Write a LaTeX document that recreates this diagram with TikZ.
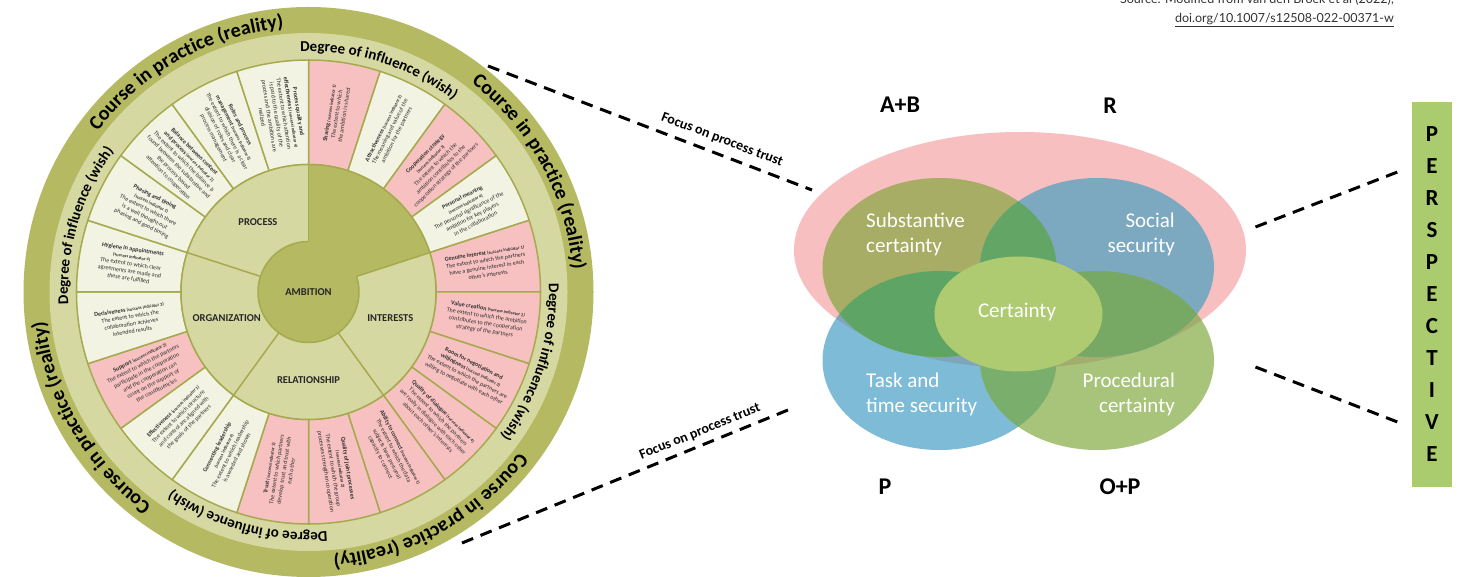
\documentclass[tikz,border=0pt]{standalone}
\usepackage{fontspec}
\setmainfont{Carlito}
\newfontfamily\srcfont{Lato}
\usetikzlibrary{decorations.text,calc}
\definecolor{darkolive}{HTML}{B5B961}
\definecolor{lightolive}{HTML}{D5D8A1}
\definecolor{segpink}{HTML}{F8C1C1}
\definecolor{segcream}{HTML}{F2F3E3}
\definecolor{lineolive}{HTML}{A6AA4F}
\definecolor{segtext}{HTML}{2E2E2E}
\definecolor{vpink}{HTML}{F7BFBF}
\definecolor{vtl}{HTML}{A7AD64}
\definecolor{vtr}{HTML}{7CA8C0}
\definecolor{vbl}{HTML}{7DBBD6}
\definecolor{vbr}{HTML}{A8C47A}
\definecolor{vtltr}{HTML}{62A565}
\definecolor{vtlbl}{HTML}{5EA464}
\definecolor{vtrbr}{HTML}{77A964}
\definecolor{vblbr}{HTML}{7AAE6C}
\definecolor{vblpink}{HTML}{7FA5BA}
\definecolor{vbrpink}{HTML}{A3AE6E}
\definecolor{vcert}{HTML}{AECB71}
\definecolor{persp}{HTML}{AACB6E}
\newcommand\segt[1]{\textbf{#1}}
\newcommand\sind[1]{{\fontsize{4.5}{6}\selectfont\textbf{(success indicator #1)}}}
\tikzset{
  segbox/.style={text=segtext, align=center, font=\fontsize{6}{7.4}\selectfont, inner sep=0pt},
  segshape/.style={draw=lineolive, line width=1.5pt},
  ringlab/.style={font=\bfseries\fontsize{10.5}{12}\selectfont, text=black!85, inner sep=0pt},
  venntext/.style={text=white, font=\fontsize{21}{25}\selectfont, inner sep=0pt},
  vennlab/.style={font=\bfseries\fontsize{24}{28}\selectfont, inner sep=0pt},
  focuslab/.style={font=\bfseries\fontsize{14}{16}\selectfont, inner sep=0pt},
  trustline/.style={line width=3pt, dash pattern=on 12pt off 8pt},
  coursedeco/.style={decorate, decoration={text along path, text align=center,
     text={|\bfseries\fontsize{20}{24}\selectfont|Course in practice (reality)}}},
  degreedeco/.style={decorate, decoration={text along path, text align=center,
     text={|\bfseries\fontsize{15}{18}\selectfont|Degree of influence (wish)}}},
}
\begin{document}
\begin{tikzpicture}[x=1pt,y=1pt]
\useasboundingbox (0,0) rectangle (1465,576);
\fill[white] (0,0) rectangle (1465,576);
\clip (0,0) rectangle (1465,576);

% ---------------- wheel ----------------
\begin{scope}[shift={(308.5,284)}]
  \fill[darkolive] (0,0) circle[radius=285pt];
  \fill[lightolive] (0,0) circle[radius=259pt];
  \foreach \i/\c in {0/segpink,1/segcream,2/segpink,3/segcream,4/segpink,5/segpink,6/segpink,7/segpink,8/segpink,9/segpink,10/segpink,11/segcream,12/segcream,13/segpink,14/segcream,15/segcream,16/segcream,17/segcream,18/segcream,19/segcream} {
    \pgfmathsetmacro\sa{90-18*\i}
    \pgfmathsetmacro\sb{72-18*\i}
    \filldraw[segshape, fill=\c] (\sa:127.5pt) arc[start angle=\sa, end angle=\sb, radius=127.5pt]
      -- (\sb:232pt) arc[start angle=\sb, end angle=\sa, radius=232pt] -- cycle;
  }
  \fill[lightolive] (0,0) circle[radius=127.5pt];
  \fill[darkolive] (0,0) -- (18:127.5pt) arc[start angle=18, end angle=90, radius=127.5pt] -- cycle;
  \fill[darkolive] (0,0) circle[radius=50.5pt];
  \draw[lineolive, line width=1.5pt] (0,0) circle[radius=127.5pt];
  \draw[lineolive, line width=1.5pt] (90:50.5pt) arc[start angle=90, end angle=378, radius=50.5pt];
  \foreach \a in {90,162,234,306,18} \draw[lineolive, line width=1.5pt] (\a:50.5pt) -- (\a:127.5pt);

  \node[ringlab] (ambition) at (0,0) {AMBITION};
  \node[ringlab] (process) at (126:86pt) {PROCESS};
  \node[ringlab] (organization) at (198:86pt) {ORGANIZATION};
  \node[ringlab] (interests) at (342:86pt) {INTERESTS};
  \node[ringlab] (relationship) at (270:88pt) {RELATIONSHIP};

  % curved ring texts
  \path[coursedeco] (159:265pt) arc[start angle=159, end angle=79, radius=265pt];
  \path[coursedeco] (68.5:265pt) arc[start angle=68.5, end angle=-11.5, radius=265pt];
  \path[coursedeco] (-21:265pt) arc[start angle=-21, end angle=-101, radius=265pt];
  \path[coursedeco] (250:265pt) arc[start angle=250, end angle=170, radius=265pt];
  \path[degreedeco] (112.5:240.5pt) arc[start angle=112.5, end angle=32.5, radius=240.5pt];
  \path[degreedeco] (22.5:240.5pt) arc[start angle=22.5, end angle=-57.5, radius=240.5pt];
  \path[degreedeco] (-65:240.5pt) arc[start angle=-65, end angle=-145, radius=240.5pt];
  \path[degreedeco] (203.5:240.5pt) arc[start angle=203.5, end angle=123.5, radius=240.5pt];

  % segment texts
  \node[segbox, rotate=81] (s1) at (81:180pt) {\segt{Sharing} \sind{1}\\The extent to which\\the ambition is shared};
  \node[segbox, rotate=63] (s2) at (63:180pt) {\segt{Attractiveness} \sind{2}\\The meaning and value of the\\ambition for the partners};
  \node[segbox, rotate=45] (s3) at (45:180pt) {\segt{Cooperation strategy}\\\sind{3}\\The extent to which the\\ambition contributes to the\\cooperation strategy of the partners};
  \node[segbox, rotate=27] (s4) at (27:180pt) {\segt{Personal meaning}\\\sind{4}\\The personal significance of the\\ambition for key players\\in the collaboration};
  \node[segbox, rotate=9] (s5) at (9:180pt) {\segt{Genuine interest} \sind{1}\\The extent to which the partners\\have a genuine interest in each\\other's interests};
  \node[segbox, rotate=-9] (s6) at (-9:180pt) {\segt{Value creation} \sind{2}\\The extent to which the ambition\\contributes to the cooperation\\strategy of the partners};
  \node[segbox, rotate=-27] (s7) at (-27:180pt) {\segt{Room for negotiation and}\\\segt{willingness} \sind{3}\\The extent to which the partners are\\willing to negotiate with each other};
  \node[segbox, rotate=-45] (s8) at (-45:180pt) {\segt{Quality of dialogue} \sind{4}\\The extent to which the partners\\are really in dialogue with each other\\about each other's interests};
  \node[segbox, rotate=-63] (s9) at (-63:180pt) {\segt{Ability to connect} \sind{1}\\The extent to which the data\\subjects have personal\\capacity to connect};
  \node[segbox, rotate=-81] (s10) at (-81:180pt) {\segt{Quality of joint processes}\\\sind{2}\\The extent to which the group\\processes strengthen cooperation};
  \node[segbox, rotate=81] (s11) at (-99:180pt) {\segt{Trust} \sind{3}\\The extent to which partners\\develop trust and trust with\\each other};
  \node[segbox, rotate=63] (s12) at (-117:180pt) {\segt{Connecting leadership}\\\sind{4}\\The extent to which leadership\\is awarded and shown};
  \node[segbox, rotate=45] (s13) at (-135:180pt) {\segt{Effectiveness} \sind{1}\\The extent to which structure\\and control are aligned with\\the goals of the partners};
  \node[segbox, rotate=27] (s14) at (-153:180pt) {\segt{Support} \sind{2}\\The extent to which the partners\\participate in the cooperation\\and the cooperation can\\count on the support of\\the constituencies};
  \node[segbox, rotate=9] (s15) at (-171:180pt) {\segt{Decisiveness} \sind{3}\\The extent to which the\\collaboration achieves\\intended results};
  \node[segbox, rotate=-9] (s16) at (171:180pt) {\segt{Hygiene in appointments}\\\sind{4}\\The extent to which clear\\agreements are made and\\these are fulfilled};
  \node[segbox, rotate=-27] (s17) at (153:180pt) {\segt{Phasing and timing}\\\sind{1}\\The extent to which there\\is a well thought-out\\phasing and good timing};
  \node[segbox, rotate=-45] (s18) at (135:180pt) {\segt{Balance between content}\\\segt{and process} \sind{2}\\The extent to which the balance is\\found between the substantive and\\the process-based\\attention to cooperation};
  \node[segbox, rotate=-63] (s19) at (117:180pt) {\segt{Roles and process}\\\segt{management} \sind{3}\\The extent to which there is a clear\\division of roles and clear\\process management};
  \node[segbox, rotate=-81] (s20) at (99:180pt) {\segt{Process quality and}\\\segt{effectiveness} \sind{4}\\The extent to which attention\\is paid to the quality of the\\process and the ambitions are\\realized};
\end{scope}

% ---------------- Venn ----------------
\fill[vpink] (1020,326) ellipse[x radius=226pt, y radius=118pt];
\fill[vbl] (939.5,215.5) ellipse[x radius=117pt, y radius=89.5pt];
\fill[vbr] (1097,215.5) ellipse[x radius=117pt, y radius=89.5pt];
\begin{scope}
  \clip (1020,326) ellipse[x radius=226pt, y radius=118pt];
  \fill[vblpink] (939.5,215.5) ellipse[x radius=117pt, y radius=89.5pt];
  \fill[vbrpink] (1097,215.5) ellipse[x radius=117pt, y radius=89.5pt];
\end{scope}
\fill[vtl] (939.5,308.5) ellipse[x radius=117pt, y radius=89.5pt];
\fill[vtr] (1097,308.5) ellipse[x radius=117pt, y radius=89.5pt];
\begin{scope}
  \clip (939.5,308.5) ellipse[x radius=117pt, y radius=89.5pt];
  \fill[vtltr] (1097,308.5) ellipse[x radius=117pt, y radius=89.5pt];
  \fill[vtlbl] (939.5,215.5) ellipse[x radius=117pt, y radius=89.5pt];
\end{scope}
\begin{scope}
  \clip (1097,308.5) ellipse[x radius=117pt, y radius=89.5pt];
  \fill[vtrbr] (1097,215.5) ellipse[x radius=117pt, y radius=89.5pt];
\end{scope}
\begin{scope}
  \clip (939.5,215.5) ellipse[x radius=117pt, y radius=89.5pt];
  \fill[vblbr] (1097,215.5) ellipse[x radius=117pt, y radius=89.5pt];
\end{scope}
\fill[vcert] (1018.5,262) ellipse[x radius=84pt, y radius=57.5pt];

\node[venntext, anchor=west, align=left] (subst) at (866,342) {Substantive\\certainty};
\node[venntext, anchor=east, align=right] (social) at (1175,342) {Social\\security};
\node[venntext, anchor=west, align=left] (task) at (866,182) {Task and\\time security};
\node[venntext, anchor=east, align=right] (proc) at (1175,182) {Procedural\\certainty};
\node[venntext] (cert) at (1017,264) {Certainty};

\node[vennlab] (ab) at (900,471) {A+B};
\node[vennlab] (r) at (1110,470) {R};
\node[vennlab] (p) at (885,89) {P};
\node[vennlab] (op) at (1120,89) {O+P};

% ---------------- perspective ----------------
\node[fill=persp, minimum width=39.5pt, minimum height=385pt, inner sep=0pt] (perspbox) at (1432,281.5) {};
\node[font=\bfseries\fontsize{23}{32}\selectfont, align=center, inner sep=0pt] (persptext) at (1432,282) {P\\E\\R\\S\\P\\E\\C\\T\\I\\V\\E};

% ---------------- dashed connectors ----------------
\coordinate (wheelup) at (488,510);
\coordinate (vennup) at (812,386);
\coordinate (wheeldown) at (462,33);
\coordinate (venndown) at (788,166);
\coordinate (vennright1) at (1255.5,349);
\coordinate (persp1) at (1397.5,404);
\coordinate (vennright2) at (1255.5,209);
\coordinate (persp2) at (1397.5,154);
\draw[trustline] (wheelup) -- (vennup);
\draw[trustline] (wheeldown) -- (venndown);
\draw[trustline] (vennright1) -- (persp1);
\draw[trustline] (vennright2) -- (persp2);
\node[focuslab, rotate=-21] (focus1) at (722,436) {Focus on process trust};
\node[focuslab, rotate=22] (focus2) at (700,144) {Focus on process trust};

% ---------------- source ----------------
\node[anchor=base east, font=\srcfont\fontsize{12.5}{15}\selectfont, text=black!80, inner sep=0pt] (src1) at (1394,572.5) {Source: Modified from van den Broek et al (2022),};
\node[anchor=base east, font=\srcfont\fontsize{12.5}{15}\selectfont, text=black!80, inner sep=0pt] (src2) at (1394,553.5) {\underline{doi.org/10.1007/s12508-022-00371-w}};
\end{tikzpicture}
\end{document}
